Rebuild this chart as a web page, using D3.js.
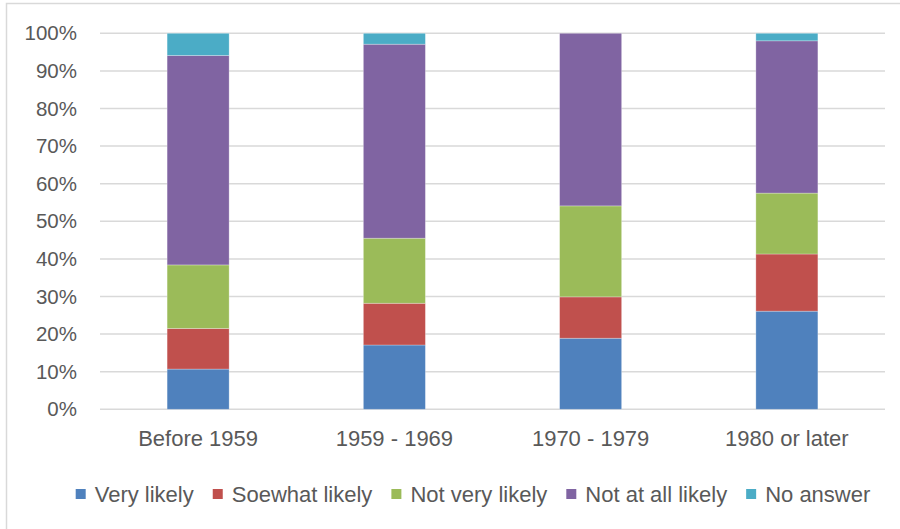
<!DOCTYPE html>
<html><head><meta charset="utf-8">
<script src="https://cdn.jsdelivr.net/npm/d3@7"></script>
<style>
html,body{margin:0;padding:0;background:#fff;}
svg{display:block;font-family:"Liberation Sans",Arial,sans-serif;}
</style></head>
<body><svg id="chart" width="900" height="529"></svg>
<script>
const categories = ["Before 1959", "1959 - 1969", "1970 - 1979", "1980 or later"];
const seriesNames = ["Very likely", "Soewhat likely", "Not very likely", "Not at all likely", "No answer"];
const veryLikely     = [10.7, 17.1, 18.9, 26.1];
const somewhatLikely = [10.8, 11.1, 11.0, 15.2];
const notVeryLikely  = [16.9, 17.3, 24.2, 16.2];
const notAtAllLikely = [55.7, 51.6, 45.9, 40.5];
const noAnswer       = [5.9, 2.9, 0.0, 2.0];
const yTicks = [0, 10, 20, 30, 40, 50, 60, 70, 80, 90, 100];
const colors = ["#4F81BD", "#C0504D", "#9BBB59", "#8064A2", "#4BACC6"];

const seriesValues = [veryLikely, somewhatLikely, notVeryLikely, notAtAllLikely, noAnswer];
const rows = categories.map((c, i) => {
  const r = {category: c};
  seriesNames.forEach((s, j) => r[s] = seriesValues[j][i]);
  return r;
});
const stacked = d3.stack().keys(seriesNames)(rows);

const svg = d3.select("#chart");
const plotLeft = 100, plotRight = 885, plotTop = 33.3, plotBottom = 409.3;

// chart border
svg.append("rect").attr("x", 6.5).attr("y", 3.5).attr("width", 1000).attr("height", 1000)
  .attr("fill", "#fff").attr("stroke", "#d9d9d9").attr("stroke-width", 1.5);

const x = d3.scaleBand().domain(categories).range([plotLeft, plotRight]).paddingInner(0.684).paddingOuter(0.342);
const y = d3.scaleLinear().domain([0, 100]).range([plotBottom, plotTop]);

// gridlines
svg.append("g").selectAll("line").data(yTicks).join("line")
  .attr("x1", plotLeft).attr("x2", plotRight)
  .attr("y1", d => y(d)).attr("y2", d => y(d))
  .attr("stroke", "#d9d9d9").attr("stroke-width", 1.5);

// y axis labels
const yAxis = svg.append("g").attr("transform", `translate(${plotLeft},0)`)
  .call(d3.axisLeft(y).tickValues(yTicks).tickFormat(d => d + "%").tickSize(0).tickPadding(23));
yAxis.select(".domain").remove();
yAxis.selectAll("text").attr("font-size", 20.5).attr("fill", "#595959")
  .attr("font-family", "Liberation Sans, Arial, sans-serif");

// bars
svg.append("g").selectAll("g").data(stacked).join("g")
  .attr("fill", (d, i) => colors[i])
  .selectAll("rect").data(d => d).join("rect")
  .attr("x", d => x(d.data.category))
  .attr("width", x.bandwidth())
  .attr("y", d => y(d[1]))
  .attr("height", d => y(d[0]) - y(d[1]))
  .attr("stroke", "rgba(255,255,255,0.35)").attr("stroke-width", 0.8);

// x axis labels
const xAxis = svg.append("g").attr("transform", `translate(0,${plotBottom})`)
  .call(d3.axisBottom(x).tickSize(0).tickPadding(21));
xAxis.select(".domain").remove();
xAxis.selectAll("text").attr("font-size", 22).attr("fill", "#595959")
  .attr("font-family", "Liberation Sans, Arial, sans-serif");

// legend
const legend = svg.append("g");
const items = legend.selectAll("g").data(seriesNames).join("g");
items.append("rect").attr("width", 10).attr("height", 10).attr("y", -5)
  .attr("fill", (d, i) => colors[i]);
items.append("text").attr("x", 19).attr("dy", "0.35em").text(d => d)
  .attr("font-size", 22).attr("fill", "#595959");
let cx = 0;
const gap = 19;
items.each(function() {
  const g = d3.select(this);
  const w = 19 + g.select("text").node().getComputedTextLength();
  g.attr("transform", `translate(${cx},0)`);
  cx += w + gap;
});
const total = cx - gap;
legend.attr("transform", `translate(${(78 + 868) / 2 - total / 2},494)`);
</script></body></html>
